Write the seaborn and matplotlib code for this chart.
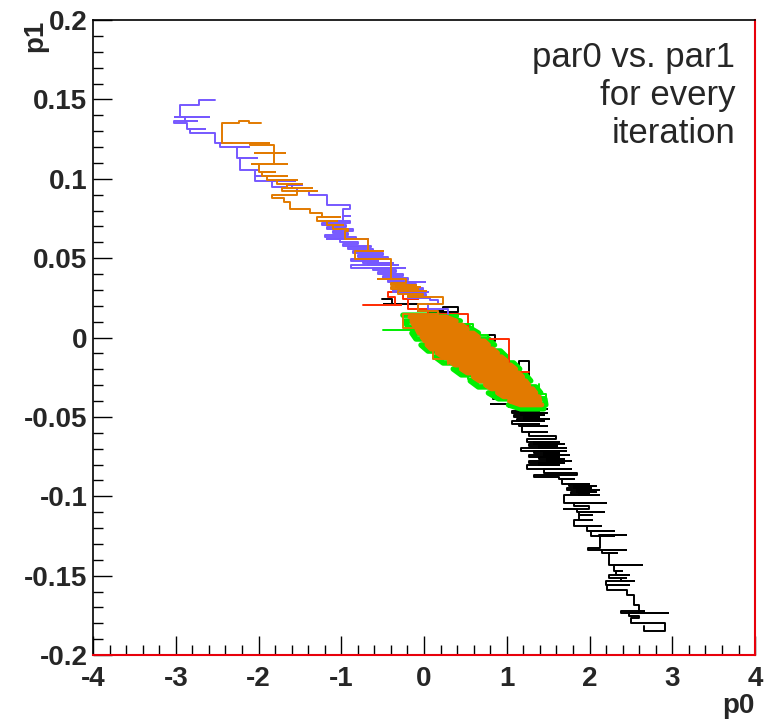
import numpy as np
import pandas as pd
import matplotlib
matplotlib.use('Agg')
import matplotlib.pyplot as plt
import seaborn as sns
from matplotlib.ticker import MultipleLocator

# chain states (par0, par1)
blue_x = [-2.529, -2.723, -2.954, -2.602, -3.015, -2.894, -2.748, -3.027, -2.869, -2.869,
          -2.650, -2.833, -2.529, -2.529, -2.322, -2.468, -2.116, -2.261, -2.261, -2.018,
          -2.225, -2.225, -2.018, -2.043, -1.836, -2.043, -1.556, -1.836, -1.836, -1.653,
          -1.471, -1.593, -1.350, -1.532, -1.374, -1.386, -1.167, -1.167, -0.900, -0.900,
          -0.985, -0.985, -0.900,
          -0.985, -1.167, -0.900, -1.228, -0.948, -1.167, -0.863, -1.106, -0.924, -1.191,
          -0.827, -1.167, -0.681, -1.021, -0.802, -0.985, -0.644, -0.924, -0.620, -0.863,
          -0.498, -0.802, -0.438, -0.888, -0.559, -0.742, -0.377, -0.681, -0.316, -0.888,
          -0.231, -0.620, -0.340, -0.559, -0.255, -0.498, -0.195, -0.438, 0.012, -0.377,
          -0.097, -0.316, -0.012, -0.377, 0.049, -0.255, 0.024, -0.195, 0.073,
          0.170, 0.049, 0.292]
blue_y = [0.1498, 0.1466, 0.1391, 0.1391, 0.1391, 0.1366, 0.1366, 0.1353, 0.1353, 0.1316,
          0.1316, 0.1291, 0.1291, 0.1228, 0.1228, 0.1202, 0.1202, 0.1202, 0.1133, 0.1133,
          0.1133, 0.1058, 0.1058, 0.1020, 0.1020, 0.0983, 0.0983, 0.0983, 0.0951, 0.0964,
          0.0964, 0.0939, 0.0939, 0.0920, 0.0920, 0.0901, 0.0901, 0.0838, 0.0838, 0.0807,
          0.0807, 0.0763, 0.0763,
          0.0732, 0.0732, 0.0719, 0.0706, 0.0694, 0.0681, 0.0669, 0.0656, 0.0644, 0.0631,
          0.0619, 0.0619, 0.0619, 0.0600, 0.0587, 0.0575, 0.0568, 0.0556, 0.0543, 0.0531,
          0.0518, 0.0505, 0.0493, 0.0480, 0.0480, 0.0468, 0.0468, 0.0455, 0.0455, 0.0436,
          0.0436, 0.0424, 0.0411, 0.0399, 0.0386, 0.0374, 0.0361, 0.0349, 0.0349, 0.0336,
          0.0323, 0.0311, 0.0298, 0.0286, 0.0286, 0.0273, 0.0261, 0.0248, 0.0236,
          0.0210, 0.0179, 0.0148]

orange_x = [-1.970, -2.116, -2.237, -2.444, -1.872, -2.103, -1.812, -1.812, -2.043, -1.678,
            -1.812, -1.812, -2.079, -1.653, -1.994, -1.994, -1.799, -1.957, -1.653, -1.897,
            -1.532, -1.775, -1.471, -1.653, -1.350, -1.714, -1.289, -1.532, -1.836, -1.690,
            -1.690, -1.617, -1.617, -1.374, -1.374, -1.228, -1.228, -1.021, -1.289, -1.046,
            -1.167, -0.985, -1.106, -0.924, -0.960, -0.681, -0.681, -0.766, -0.498, -0.839,
            -0.401, -0.401, -0.559, -0.219, -0.401, -0.097, -0.340, -0.049, -0.401, -0.073,
            -0.280, 0.024, -0.316, -0.012, -0.195, 0.049, 0.231, -0.073,
            0.170, -0.255, 0.170, 0.109, 0.413, 0.292]
orange_y = [0.1353, 0.1366, 0.1353, 0.1228, 0.1228, 0.1215, 0.1215, 0.1165, 0.1165, 0.1165,
            0.1165, 0.1096, 0.1096, 0.1096, 0.1096, 0.1045, 0.1045, 0.1020, 0.1020, 0.0995,
            0.0995, 0.0970, 0.0970, 0.0945, 0.0945, 0.0920, 0.0920, 0.0901, 0.0882, 0.0882,
            0.0851, 0.0851, 0.0807, 0.0807, 0.0782, 0.0782, 0.0757, 0.0757, 0.0732, 0.0732,
            0.0706, 0.0706, 0.0681, 0.0669, 0.0619, 0.0619, 0.0543, 0.0543, 0.0543, 0.0493,
            0.0493, 0.0367, 0.0367, 0.0342, 0.0330, 0.0330, 0.0317, 0.0317, 0.0305, 0.0305,
            0.0292, 0.0292, 0.0273, 0.0267, 0.0254, 0.0254, 0.0210, 0.0166,
            0.0148, 0.0060, 0.0060, -0.0135, -0.0135, -0.0166]

black_x = [-0.511, -0.389, -0.389, -0.486, -0.073, 0.231, 0.413, 0.413, 0.049, 0.146,
           0.146, 0.049, 0.778, 0.863, 0.863, 0.596, 0.669, 1.143, 1.264, 1.264,
           0.839, 1.058, 1.058, 0.815,
           1.082, 1.447, 1.119, 1.483, 1.143, 1.386, 1.058, 1.483, 1.167, 1.447,
           1.082, 1.386, 1.204, 1.508, 1.119, 1.447, 1.058, 1.386, 1.143, 1.483,
           1.179, 1.483, 1.264, 1.593,
           1.240, 1.629, 1.325, 1.690, 1.264, 1.605, 1.386, 1.714, 1.167, 1.714,
           1.325, 1.629, 1.447, 1.751, 1.264, 1.629, 1.386, 1.690, 1.483, 1.775,
           1.264, 1.690, 1.386, 1.629,
           1.240, 1.775, 1.447, 1.848, 1.325, 1.629, 1.812,
           1.666, 1.994, 1.751, 2.079, 1.812, 2.018, 1.727, 2.116, 1.848, 2.079,
           1.775, 1.994, 1.872, 2.116,
           1.690, 2.201, 1.812, 1.994, 1.690, 1.909, 1.848, 2.176, 1.872, 2.030,
           1.872, 2.030, 1.812, 2.140, 1.970, 1.970, 2.298, 2.018, 2.298, 2.116,
           2.444, 2.128, 1.982, 2.444, 2.152, 2.334, 2.237, 2.237, 2.638, 2.298,
           2.298, 2.395, 2.322, 2.480, 2.237, 2.444, 2.383, 2.541, 2.201, 2.480,
           2.213, 2.456, 2.541, 2.541, 2.602, 2.602, 2.663, 2.383, 2.942, 2.480,
           2.602, 2.505, 2.906, 2.906, 2.663, 2.663]
black_y = [0.0242, 0.0242, 0.0210, 0.0210, 0.0166, 0.0192, 0.0192, 0.0160, -0.0009, -0.0009,
           -0.0041, -0.0041, 0.0016, 0.0016, -0.0022, -0.0235, -0.0235, -0.0148, -0.0148, -0.0242,
           -0.0386, -0.0386, -0.0418, -0.0418,
           -0.0436, -0.0436, -0.0449, -0.0449, -0.0461, -0.0461, -0.0474, -0.0474, -0.0487, -0.0487,
           -0.0499, -0.0499, -0.0512, -0.0512, -0.0524, -0.0524, -0.0543, -0.0543, -0.0556, -0.0556,
           -0.0593, -0.0593, -0.0619, -0.0637,
           -0.0656, -0.0656, -0.0669, -0.0669, -0.0681, -0.0681, -0.0694, -0.0694, -0.0713, -0.0713,
           -0.0725, -0.0725, -0.0738, -0.0738, -0.0751, -0.0751, -0.0763, -0.0763, -0.0776, -0.0776,
           -0.0788, -0.0788, -0.0801, -0.0801,
           -0.0826, -0.0826, -0.0851, -0.0863, -0.0876, -0.0889, -0.0889,
           -0.0920, -0.0920, -0.0933, -0.0933, -0.0945, -0.0945, -0.0958, -0.0958, -0.0970, -0.0970,
           -0.0983, -0.0983, -0.0995, -0.0995,
           -0.1045, -0.1045, -0.1064, -0.1077, -0.1077, -0.1077, -0.1096, -0.1096, -0.1121, -0.1121,
           -0.1152, -0.1152, -0.1190, -0.1190, -0.1190, -0.1221, -0.1221, -0.1253, -0.1253, -0.1246,
           -0.1246, -0.1328, -0.1341, -0.1341, -0.1360, -0.1360, -0.1372, -0.1435, -0.1435, -0.1435,
           -0.1473, -0.1473, -0.1498, -0.1498, -0.1517, -0.1517, -0.1535, -0.1535, -0.1560, -0.1560,
           -0.1592, -0.1623, -0.1623, -0.1686, -0.1686, -0.1724, -0.1724, -0.1736, -0.1736, -0.1755,
           -0.1768, -0.1799, -0.1799, -0.1849, -0.1849, -0.1818]

red_x = [-0.742, -0.280, -0.353, -0.438, -0.438, -0.353, -0.255, -0.073, -0.195, 0.049,
         0.535, 1.021, 1.264]
red_y = [0.0204, 0.0204, 0.0254, 0.0254, 0.0286, 0.0286, 0.0242, 0.0242, 0.0179, 0.0148,
         -0.0009, -0.0217, -0.0217]

green_x = [-0.498, 0.012, -0.073, 0.231, 0.170, 0.413, 0.353, 0.596, 0.535, 0.778,
           0.292, 0.535, 0.535, 0.778, 0.900, 1.143, 1.264, 1.471, 1.471, 1.386]
green_y = [0.0047, 0.0047, 0.0104, 0.0116, 0.0141, 0.0129, 0.0085, 0.0053, 0.0016, -0.0009,
           -0.0085, -0.0085, -0.0261, -0.0292, -0.0367, -0.0386, -0.0418, -0.0418, -0.0355, -0.0292]

# dense core of the chains: left / right extent at each par1 level
core_y = [0.0129, 0.0104, 0.0078, 0.0053, 0.0028, 0.0003, -0.0022, -0.0047, -0.0072, -0.0097,
          -0.0122, -0.0148, -0.0173, -0.0198, -0.0223, -0.0248, -0.0273, -0.0298, -0.0323, -0.0348,
          -0.0373, -0.0399, -0.0424]
core_left = [-0.170, -0.146, -0.122, -0.085, -0.061, -0.024, 0.012, 0.036, 0.085, 0.158,
             0.231, 0.304, 0.377, 0.450, 0.523, 0.596, 0.669, 0.742, 0.815, 0.888,
             0.961, 1.033, 1.167]
core_right = [0.267, 0.389, 0.462, 0.523, 0.596, 0.657, 0.729, 0.778, 0.827, 0.888,
              0.936, 0.997, 1.046, 1.106, 1.143, 1.191, 1.228, 1.264, 1.313, 1.350,
              1.386, 1.398, 1.423]

gcore_y = [0.0141, 0.0104, 0.0066, 0.0028, -0.0009, -0.0047, -0.0085, -0.0122, -0.0160, -0.0198,
           -0.0235, -0.0273, -0.0311, -0.0349, -0.0386, -0.0424, -0.0449]
gcore_left = [-0.255, -0.231, -0.195, -0.146, -0.097, -0.036, 0.049, 0.134, 0.231, 0.353,
              0.450, 0.559, 0.657, 0.778, 0.900, 1.021, 1.167]
gcore_right = [0.170, 0.438, 0.535, 0.657, 0.778, 0.851, 0.924, 0.997, 1.082, 1.155,
               1.228, 1.289, 1.350, 1.410, 1.459, 1.471, 1.447]

xticks = [-4, -3, -2, -1, 0, 1, 2, 3, 4]
xtick_labels = ['-4', '-3', '-2', '-1', '0', '1', '2', '3', '4']
yticks = [-0.2, -0.15, -0.1, -0.05, 0, 0.05, 0.1, 0.15, 0.2]
ytick_labels = ['-0.2', '-0.15', '-0.1', '-0.05', '0', '0.05', '0.1', '0.15', '0.2']

sns.set_style('white')
plt.rcParams['font.family'] = ['Liberation Sans', 'DejaVu Sans']


def zigzag(left, right, ys):
    xs, yy = [], []
    for i in range(len(ys)):
        a, b = (left[i], right[i]) if i % 2 == 0 else (right[i], left[i])
        xs += [a, b]
        yy += [ys[i], ys[i]]
    return pd.DataFrame({'p0': xs, 'p1': yy})


fig = plt.figure(figsize=(7.65, 7.21), dpi=100)
ax = fig.add_axes([0.1216, 0.0915, 0.8654, 0.8807])

c_black = '#000000'
c_red = '#ff2a00'
c_green = '#00ee00'
c_blue = '#7658ff'
c_orange = '#e27a00'

steps = dict(sort=False, estimator=None, drawstyle='steps-post', legend=False, ax=ax)
lw_chain = 1.4

sns.lineplot(data=pd.DataFrame({'p0': black_x, 'p1': black_y}), x='p0', y='p1',
             color=c_black, lw=lw_chain, **steps)
sns.lineplot(data=zigzag(gcore_left, gcore_right, gcore_y), x='p0', y='p1', sort=False,
             estimator=None, color=c_green, lw=4.0, legend=False, ax=ax)
sns.lineplot(data=pd.DataFrame({'p0': red_x, 'p1': red_y}), x='p0', y='p1',
             color=c_red, lw=lw_chain, **steps)
sns.lineplot(data=pd.DataFrame({'p0': green_x, 'p1': green_y}), x='p0', y='p1',
             color=c_green, lw=lw_chain, **steps)
sns.lineplot(data=pd.DataFrame({'p0': blue_x, 'p1': blue_y}), x='p0', y='p1',
             color=c_blue, lw=lw_chain, **steps)
sns.lineplot(data=pd.DataFrame({'p0': orange_x, 'p1': orange_y}), x='p0', y='p1',
             color=c_orange, lw=lw_chain, **steps)
sns.lineplot(data=zigzag(core_left, core_right, core_y), x='p0', y='p1', sort=False,
             estimator=None, color=c_orange, lw=3.6, legend=False, ax=ax)

ax.set_xlim(-4, 4)
ax.set_ylim(-0.2, 0.2)
ax.set_xticks(xticks)
ax.set_xticklabels(xtick_labels)
ax.set_yticks(yticks)
ax.set_yticklabels(ytick_labels)
ax.xaxis.set_minor_locator(MultipleLocator(0.2))
ax.yaxis.set_minor_locator(MultipleLocator(0.01))
ax.tick_params(which='both', direction='in', top=False, right=False,
               bottom=True, left=True, width=1.0, color='black')
ax.tick_params(which='major', length=14, labelsize=20)
ax.tick_params(axis='y', which='major', pad=4)
ax.tick_params(axis='x', which='major', pad=8)
ax.tick_params(which='minor', length=7)
for lab in ax.get_xticklabels() + ax.get_yticklabels():
    lab.set_fontweight('bold')

for side in ['left', 'top']:
    ax.spines[side].set_color('black')
    ax.spines[side].set_linewidth(1.2)
for side in ['right', 'bottom']:
    ax.spines[side].set_color('#e8000b')
    ax.spines[side].set_linewidth(1.5)

ax.set_xlabel('p0', fontsize=20, fontweight='bold', loc='right')
ax.set_ylabel('p1', fontsize=20, fontweight='bold', loc='top')
ax.xaxis.set_label_coords(1.0, -0.06)
ax.yaxis.set_label_coords(-0.068, 1.0)

ax.text(0.9698, 0.967, 'par0 vs. par1\nfor every\niteration', transform=ax.transAxes,
        ha='right', va='top', multialignment='right', fontsize=25,
        linespacing=1.2)

fig.savefig('out.png', dpi=100)
